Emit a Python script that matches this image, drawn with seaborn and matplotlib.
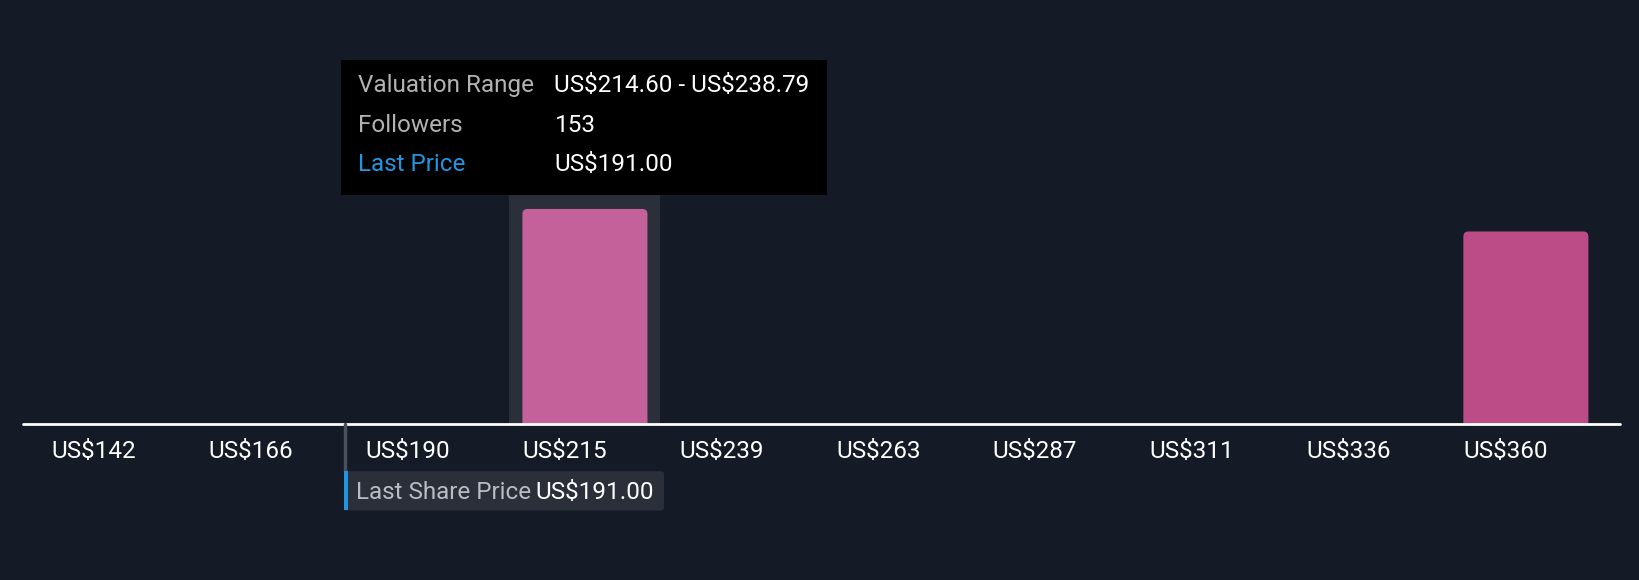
import numpy as np
import pandas as pd
import matplotlib.pyplot as plt
import seaborn as sns
from matplotlib.patches import FancyBboxPatch, Rectangle

# Dane: przedzialy wyceny i liczba obserwujacych
bin_edges = [142.0, 166.2, 190.4, 214.6, 238.79, 263.0, 287.2, 311.4, 335.5, 359.7, 383.9]
tick_labels = ["US$142", "US$166", "US$190", "US$215", "US$239",
               "US$263", "US$287", "US$311", "US$336", "US$360"]
followers = [0, 0, 0, 153, 0, 0, 0, 0, 0, 137]
bar_colors = ["#C4619A"] * 9 + ["#BC4C88"]
last_price = 191.0
tooltip_rows = [("Valuation Range", "US$214.60 - US$238.79"),
                ("Followers", "153"),
                ("Last Price", "US$191.00")]

BG = "#151B26"
FS = 17.5
sns.set_theme(style="dark")
plt.rcParams["font.family"] = ["Roboto", "DejaVu Sans"]
plt.rcParams["text.parse_math"] = False

fig = plt.figure(figsize=(16.4, 5.8), dpi=100, facecolor=BG)
ax = fig.add_axes([0, 0, 1, 1])
ax.set_facecolor(BG)

edges = np.array(bin_edges)
centers = edges[:-1] + 13.4
df = pd.DataFrame({"center": centers, "followers": followers})

# tlo podswietlonego przedzialu
ax.add_patch(Rectangle((216.3, 0), 23.3, 162.7, color="#2A2F3A", zorder=0, lw=0))

sns.barplot(data=df, x="center", y="followers", native_scale=True, width=0.8,
            color=bar_colors[0], saturation=1, ax=ax, zorder=2)

# zaokraglone slupki zamiast prostokatow
clip = Rectangle((100, 0), 400, 400, transform=ax.transData)
for p in list(ax.patches):
    if not isinstance(p, Rectangle) or p.get_zorder() == 0:
        continue
    x, w, h = p.get_x(), p.get_width(), p.get_height()
    p.remove()
    if h <= 0:
        continue
    i = int(np.argmin(np.abs(centers - (x + w / 2))))
    bar = FancyBboxPatch((x, -6), w, h + 6,
                         boxstyle="round,pad=0,rounding_size=0.8",
                         mutation_aspect=4.4, facecolor=bar_colors[i],
                         edgecolor="none", zorder=2)
    ax.add_patch(bar)
    bar.set_clip_path(clip)

ax.set_xlim(137.8, 390.7)
ax.set_ylim(-110.7, 301.5)
ax.axis("off")

ax.axhline(0, xmin=23 / 1640, xmax=1620 / 1640, color="white", lw=2, zorder=3)

for e, lab in zip(edges[:-1], tick_labels):
    ax.text(e + 3.7, -19.3, lab, ha="left", va="center", color="white", fontsize=FS)

# ostatnia cena
ax.plot([last_price, last_price], [0, -34], color="#4A505C", lw=2.5, zorder=3)
ax.add_patch(FancyBboxPatch((190.9, -61.3), 49.3, 27.9,
                            boxstyle="round,pad=0,rounding_size=0.5",
                            mutation_aspect=4.4, facecolor="#2A2F3A",
                            edgecolor="none", zorder=3))
ax.add_patch(Rectangle((190.9, -61.3), 0.5, 27.9, color="#2394DF", lw=0, zorder=4))
ax.text(192.75, -48.5, "Last Share Price", ha="left", va="center",
        color="#B9BCC2", fontsize=FS, zorder=5)
ax.text(220.4, -48.5, "US$%.2f" % last_price, ha="left", va="center",
        color="white", fontsize=FS, zorder=5)

# dymek z opisem
ax.add_patch(Rectangle((190.4, 162.7), 75.0, 96.5, color="black", lw=0, zorder=6))
for (k, v), y in zip(tooltip_rows, [240.8, 212.6, 184.4]):
    kc = "#2394DF" if k == "Last Price" else "#B3B3B3"
    ax.text(193.0, y, k, ha="left", va="center", color=kc, fontsize=FS, zorder=7)
    ax.text(223.3, y, v, ha="left", va="center", color="white", fontsize=FS, zorder=7)

fig.savefig("out.png", dpi=100, facecolor=BG)
